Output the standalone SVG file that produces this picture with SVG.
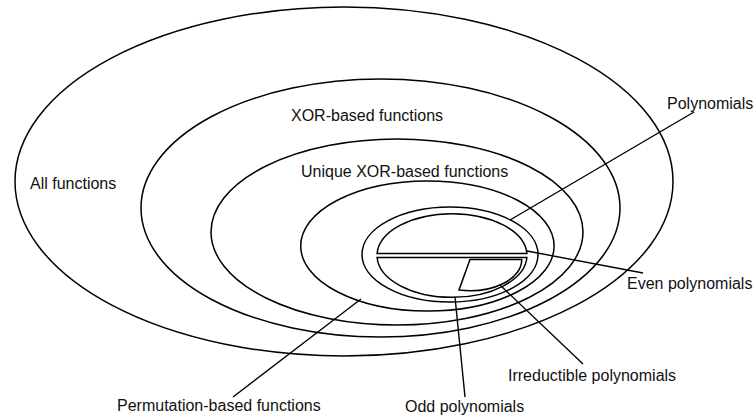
<svg xmlns="http://www.w3.org/2000/svg" width="755" height="418" viewBox="0 0 755 418">
<style>
.s{fill:none;stroke:#000;stroke-width:1.5}
.c{fill:none;stroke:#000;stroke-width:1.4}
text{font-family:"Liberation Sans",Arial,Helvetica,sans-serif;font-size:16px;fill:#111}
</style>
<rect width="755" height="418" fill="#fff"/>
<g id="all"><ellipse class="s" cx="344" cy="181.5" rx="329" ry="174.5"/><text x="30" y="189">All functions</text></g>
<g id="xor"><ellipse class="s" cx="380.5" cy="208" rx="239.5" ry="129"/><text x="291" y="121">XOR-based functions</text></g>
<g id="unique"><ellipse class="s" cx="397" cy="232" rx="186" ry="93"/><text x="301" y="177">Unique XOR-based functions</text></g>
<g id="perm"><ellipse class="s" cx="427.4" cy="246" rx="126.7" ry="65"/><text x="117" y="411">Permutation-based functions</text></g>
<g id="poly"><ellipse class="s" cx="450" cy="254.5" rx="88" ry="47.5"/><text x="667" y="108.5">Polynomials</text></g>
<g id="even"><path class="s" d="M377.1,253.5 A75 42 0 0 1 526.9,253.5 Z"/><text x="627" y="289">Even polynomials</text></g>
<g id="odd"><path class="s" d="M377.1,257.5 L526.9,257.5 A75 42 0 0 1 377.1,257.5 Z"/><text x="405" y="412">Odd polynomials</text></g>
<g id="irred"><path class="s" d="M470,259.5 L521.7,259.5 A51.7 30.7 0 0 1 459,290 Z"/><text x="508" y="381">Irreductible polynomials</text></g>
<g id="connectors">
<line class="c" x1="510" y1="220" x2="694" y2="112"/>
<line class="c" x1="527" y1="251" x2="643" y2="273"/>
<line class="c" x1="500" y1="285" x2="583" y2="364"/>
<line class="c" x1="455" y1="297" x2="465" y2="397"/>
<line class="c" x1="361" y1="299" x2="233" y2="397"/>
</g>
</svg>
